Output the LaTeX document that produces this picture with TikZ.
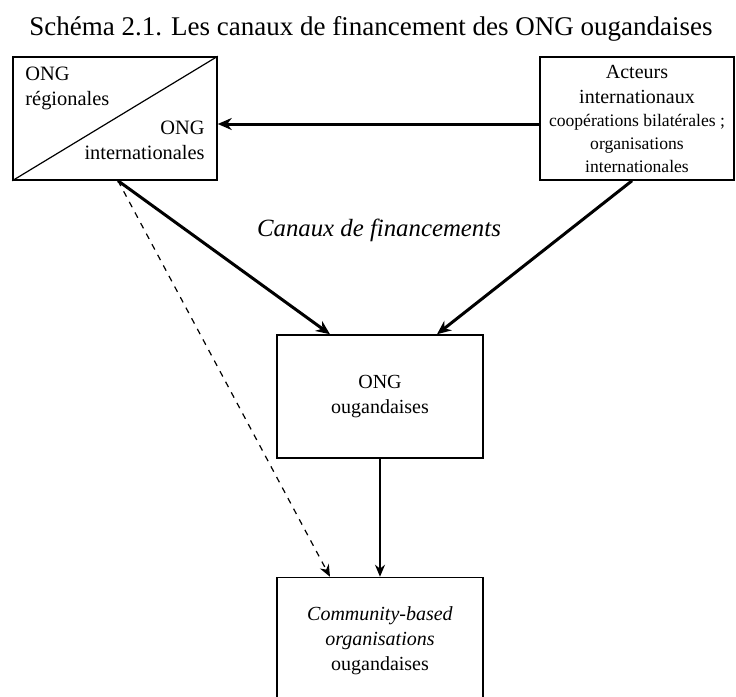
\documentclass[tikz,border=0pt]{standalone}
\usepackage{fontspec}
\setmainfont{Liberation Serif}
\usetikzlibrary{arrows.meta}

\begin{document}
\begin{tikzpicture}[x=0.5pt,y=-0.5pt,
	box/.style={draw,line width=0.75pt,minimum width=103pt,minimum height=61.5pt,align=center,inner sep=0pt,font=\fontsize{10}{12.5}\selectfont},
	flow/.style={line width=1.5pt,-{Stealth[length=7pt,width=6pt]}},
	thin flow/.style={line width=0.8pt,-{Stealth[length=6pt,width=5pt]}},
	hint/.style={line width=0.6pt,dashed,-{Stealth[length=6pt,width=5pt]}}]
	\useasboundingbox (0,0) rectangle (736,697);
	\clip (0,0) rectangle (736,697);
	% Title
	\node (title) at (371,29) {\fontsize{13.5}{16}\selectfont Schéma 2.1. Les canaux de financement des ONG ougandaises};
	% Boxes
	\node[box,minimum width=102pt] (ongint) at (115,118.5) {};
	\draw[line width=0.6pt] (ongint.south west) -- (ongint.north east);
	\node[anchor=north west,align=left,inner sep=0pt,font=\fontsize{10.2}{12.5}\selectfont] (reg) at (25,67) {ONG\\régionales};
	\node[anchor=south east,align=right,inner sep=0pt,font=\fontsize{10.2}{12.5}\selectfont] (int) at (205,160) {ONG\\internationales};
	\node[box,minimum width=97pt] (acteurs) at (637,118.5) {Acteurs\\internationaux\\[-1pt]
		{\fontsize{8.8}{9.5}\selectfont coopérations bilatérales ;}\\[-1pt]
		{\fontsize{8.8}{9.5}\selectfont organisations}\\[-1pt]
		{\fontsize{8.8}{9.5}\selectfont internationales}};
	\node[box] (ongoug) at (380,396.5) {ONG\\ougandaises};
	\node[box,text depth=0pt] (cbo) at (380,639) {\textit{Community-based}\\\textit{organisations}\\ougandaises};
	\node[font=\fontsize{12.4}{15}\selectfont\itshape] (canaux) at (379,230) {Canaux de financements};
	% Arrows
	\draw[flow] ([yshift=-2.75pt]acteurs.west) -- ([yshift=-2.75pt]ongint.east);
	\draw[flow] ([xshift=1.5pt]ongint.south) -- ([xshift=-25pt]ongoug.north);
	\draw[flow] ([xshift=-2.5pt]acteurs.south) -- ([xshift=28.5pt]ongoug.north);
	\draw[hint] ([xshift=1.5pt]ongint.south) -- ([xshift=-25pt]cbo.north);
	\draw[thin flow] (ongoug.south) -- (cbo.north);
\end{tikzpicture}
\end{document}
